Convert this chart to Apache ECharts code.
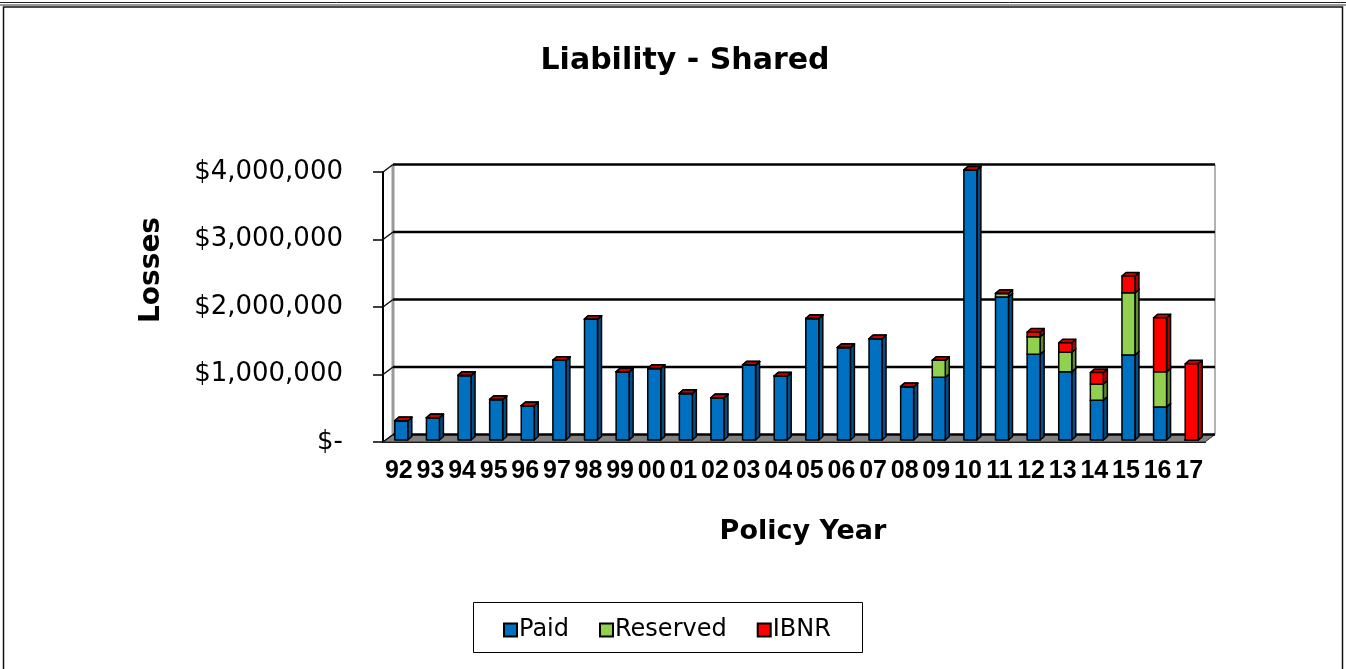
<!DOCTYPE html>
<html lang="en">
<head>
    <meta charset="UTF-8">
    <title>Liability - Shared</title>
    <style>
        html, body { margin: 0; padding: 0; background: #fff; }
        .box { width: 1346px; height: 669px; }
    </style>
</head>
<body>
    <div class="box" id="box"></div>
    <script src="https://cdn.jsdelivr.net/npm/echarts@6/dist/echarts.min.js"></script>
    <script>
        // policy years
        var years = ['92', '93', '94', '95', '96', '97', '98', '99', '00', '01', '02', '03', '04',
                     '05', '06', '07', '08', '09', '10', '11', '12', '13', '14', '15', '16', '17'];
        // losses by type
        var paid = [285000, 330000, 957000, 600000, 507000, 1180000, 1790000, 1010000, 1060000, 690000,
                    626000, 1110000, 947000, 1800000, 1370000, 1500000, 790000, 930000, 4000000, 2120000,
                    1270000, 1010000, 590000, 1260000, 490000, 0];
        var reserved = [0, 0, 0, 0, 0, 0, 0, 0, 0, 0, 0, 0, 0, 0, 0, 0, 0, 250000, 0, 50000,
                        260000, 290000, 240000, 920000, 520000, 0];
        var ibnr = [0, 0, 0, 0, 0, 0, 0, 0, 0, 0, 0, 0, 0, 0, 0, 0, 0, 0, 0, 0,
                    70000, 140000, 170000, 250000, 800000, 1130000];
        var yTicks = [0, 1000000, 2000000, 3000000, 4000000];

        var myChart = echarts.init(document.getElementById('box'));

        // fake 3d look
        var WALL_X = 10, WALL_Y = 7.5;   // back wall offset
        var BAR_W = 13, DX = 4, DY = 3.5; // bar front width and depth
        var SHIFT_X = 2.5, SHIFT_Y = -2;  // bar front sits a bit into the floor

        // [index, base, top] for a stacked segment
        function stackData(vals, below) {
            return vals.map(function (v, i) {
                var base = 0;
                below.forEach(function (arr) { base += arr[i]; });
                return [i, base, base + v];
            });
        }

        function boxRenderer(front, side, top) {
            return function (params, api) {
                var i = api.value(0);
                var b = api.coord([i, api.value(1)]);
                var t = api.coord([i, api.value(2)]);
                var x0 = b[0] + SHIFT_X - BAR_W / 2;
                var x1 = x0 + BAR_W;
                var yb = b[1] + SHIFT_Y;
                var yt = t[1] + SHIFT_Y;
                var ln = { stroke: '#000', lineWidth: 1.5, lineJoin: 'round' };
                return {
                    type: 'group',
                    children: [
                        { type: 'polygon', shape: { points: [[x1, yb], [x1 + DX, yb - DY], [x1 + DX, yt - DY], [x1, yt]] },
                          style: Object.assign({ fill: side }, ln) },
                        { type: 'polygon', shape: { points: [[x0, yt], [x0 + DX, yt - DY], [x1 + DX, yt - DY], [x1, yt]] },
                          style: Object.assign({ fill: top }, ln) },
                        { type: 'rect', shape: { x: x0, y: yt, width: BAR_W, height: yb - yt },
                          style: Object.assign({ fill: front }, ln) }
                    ]
                };
            };
        }

        // back wall, floor and gridlines
        function wallRenderer(params, api) {
            var cs = params.coordSys;
            var v = api.value(1);
            var y = api.coord([0, v])[1];
            var left = cs.x, right = cs.x + cs.width;
            var children = [];
            if (v === 0) {
                var yTop = api.coord([0, yTicks[yTicks.length - 1]])[1];
                children.push({ type: 'polygon',
                    shape: { points: [[left, y], [left + WALL_X, y - WALL_Y], [right + WALL_X, y - WALL_Y], [right, y]] },
                    style: { fill: '#808080', stroke: '#333', lineWidth: 1 } });
                children.push({ type: 'line',
                    shape: { x1: left + WALL_X, y1: y - WALL_Y, x2: left + WALL_X, y2: yTop - WALL_Y },
                    style: { stroke: '#9a9a9a', lineWidth: 3 } });
                children.push({ type: 'line',
                    shape: { x1: right + WALL_X, y1: y - WALL_Y, x2: right + WALL_X, y2: yTop - WALL_Y },
                    style: { stroke: '#9a9a9a', lineWidth: 1.5 } });
            }
            children.push({ type: 'line',
                shape: { x1: left + WALL_X, y1: y - WALL_Y, x2: right + WALL_X, y2: y - WALL_Y },
                style: { stroke: '#000', lineWidth: 2.5 } });
            children.push({ type: 'line',
                shape: { x1: left, y1: y, x2: left + WALL_X, y2: y - WALL_Y },
                style: { stroke: '#111', lineWidth: 1.5 } });
            return { type: 'group', children: children };
        }

        var option = {
            animation: false,
            backgroundColor: '#fff',
            title: {
                text: 'Liability - Shared',
                left: 680,
                textAlign: 'center',
                top: 41,
                textStyle: { fontFamily: 'DejaVu Sans', fontWeight: 'bold', fontSize: 30, color: '#000' }
            },
            legend: {
                data: ['Paid', 'Reserved', 'IBNR'],
                left: 498,
                top: 613,
                icon: 'rect',
                itemWidth: 13,
                itemHeight: 13,
                itemGap: 30,
                itemStyle: { borderColor: '#000', borderWidth: 2 },
                textStyle: { fontFamily: 'DejaVu Sans', fontSize: 24, color: '#000', padding: [0, 0, 0, -3] }
            },
            grid: {
                left: 383,
                right: 141,
                top: 172,
                bottom: 227
            },
            xAxis: {
                type: 'category',
                data: years,
                axisLine: { lineStyle: { color: '#000', width: 2 } },
                axisTick: { length: 10, lineStyle: { color: '#000', width: 1.5 } },
                axisLabel: { interval: 0, margin: 17, color: '#000', fontFamily: 'Liberation Sans', fontWeight: 'bold', fontSize: 25 },
                name: 'Policy Year',
                nameLocation: 'middle',
                nameGap: 76,
                nameTextStyle: { fontFamily: 'DejaVu Sans', fontWeight: 'bold', fontSize: 27, color: '#000', padding: [0, 0, 0, 18] }
            },
            yAxis: {
                type: 'value',
                min: 0,
                max: 4000000,
                interval: 1000000,
                axisLine: { show: true, lineStyle: { color: '#000', width: 2 } },
                axisTick: { show: true, length: 10, lineStyle: { color: '#000', width: 1.5 } },
                splitLine: { show: false },
                axisLabel: {
                    margin: 40,
                    color: '#000',
                    fontFamily: 'DejaVu Sans',
                    fontSize: 26,
                    formatter: function (v) {
                        return v === 0 ? '$-' : '$' + v.toLocaleString('en-US');
                    }
                }
            },
            graphic: [
                // outer frame
                { type: 'line', shape: { x1: 0, y1: 2.5, x2: 1346, y2: 2.5 }, style: { stroke: '#222', lineWidth: 1 } },
                { type: 'line', shape: { x1: 0, y1: 5, x2: 1346, y2: 5 }, style: { stroke: '#999', lineWidth: 2 } },
                { type: 'rect', shape: { x: 3.5, y: 7, width: 1339, height: 700 }, style: { fill: 'none', stroke: '#111', lineWidth: 1.5 } },
                // legend box
                { type: 'rect', z: -1, shape: { x: 473.5, y: 602.5, width: 389, height: 50 }, style: { fill: '#fff', stroke: '#000', lineWidth: 1 } },
                // y axis title
                { type: 'text', x: 152, y: 270, rotation: Math.PI / 2,
                  style: { text: 'Losses', fontFamily: 'DejaVu Sans', fontWeight: 'bold', fontSize: 28, fill: '#000', align: 'center', verticalAlign: 'middle' } }
            ],
            series: [
                {
                    name: 'wall',
                    type: 'custom',
                    silent: true,
                    z: 1,
                    renderItem: wallRenderer,
                    encode: { x: 0, y: 1 },
                    data: yTicks.map(function (v) { return [0, v]; })
                },
                {
                    name: 'Paid',
                    type: 'custom',
                    z: 3,
                    itemStyle: { color: '#0070C0' },
                    renderItem: boxRenderer('#0070C0', '#004F88', '#005A9C'),
                    encode: { x: 0, y: [1, 2] },
                    data: stackData(paid, [])
                },
                {
                    name: 'Reserved',
                    type: 'custom',
                    z: 3,
                    itemStyle: { color: '#92D050' },
                    renderItem: boxRenderer('#92D050', '#5E8C2E', '#76AE3C'),
                    encode: { x: 0, y: [1, 2] },
                    data: stackData(reserved, [paid])
                },
                {
                    name: 'IBNR',
                    type: 'custom',
                    z: 3,
                    itemStyle: { color: '#FF0000' },
                    renderItem: boxRenderer('#FF0000', '#B00000', '#C80000'),
                    encode: { x: 0, y: [1, 2] },
                    data: stackData(ibnr, [paid, reserved])
                }
            ]
        };

        myChart.setOption(option);

        window.addEventListener('resize', function () {
            myChart.resize();
        });
    </script>
</body>
</html>
